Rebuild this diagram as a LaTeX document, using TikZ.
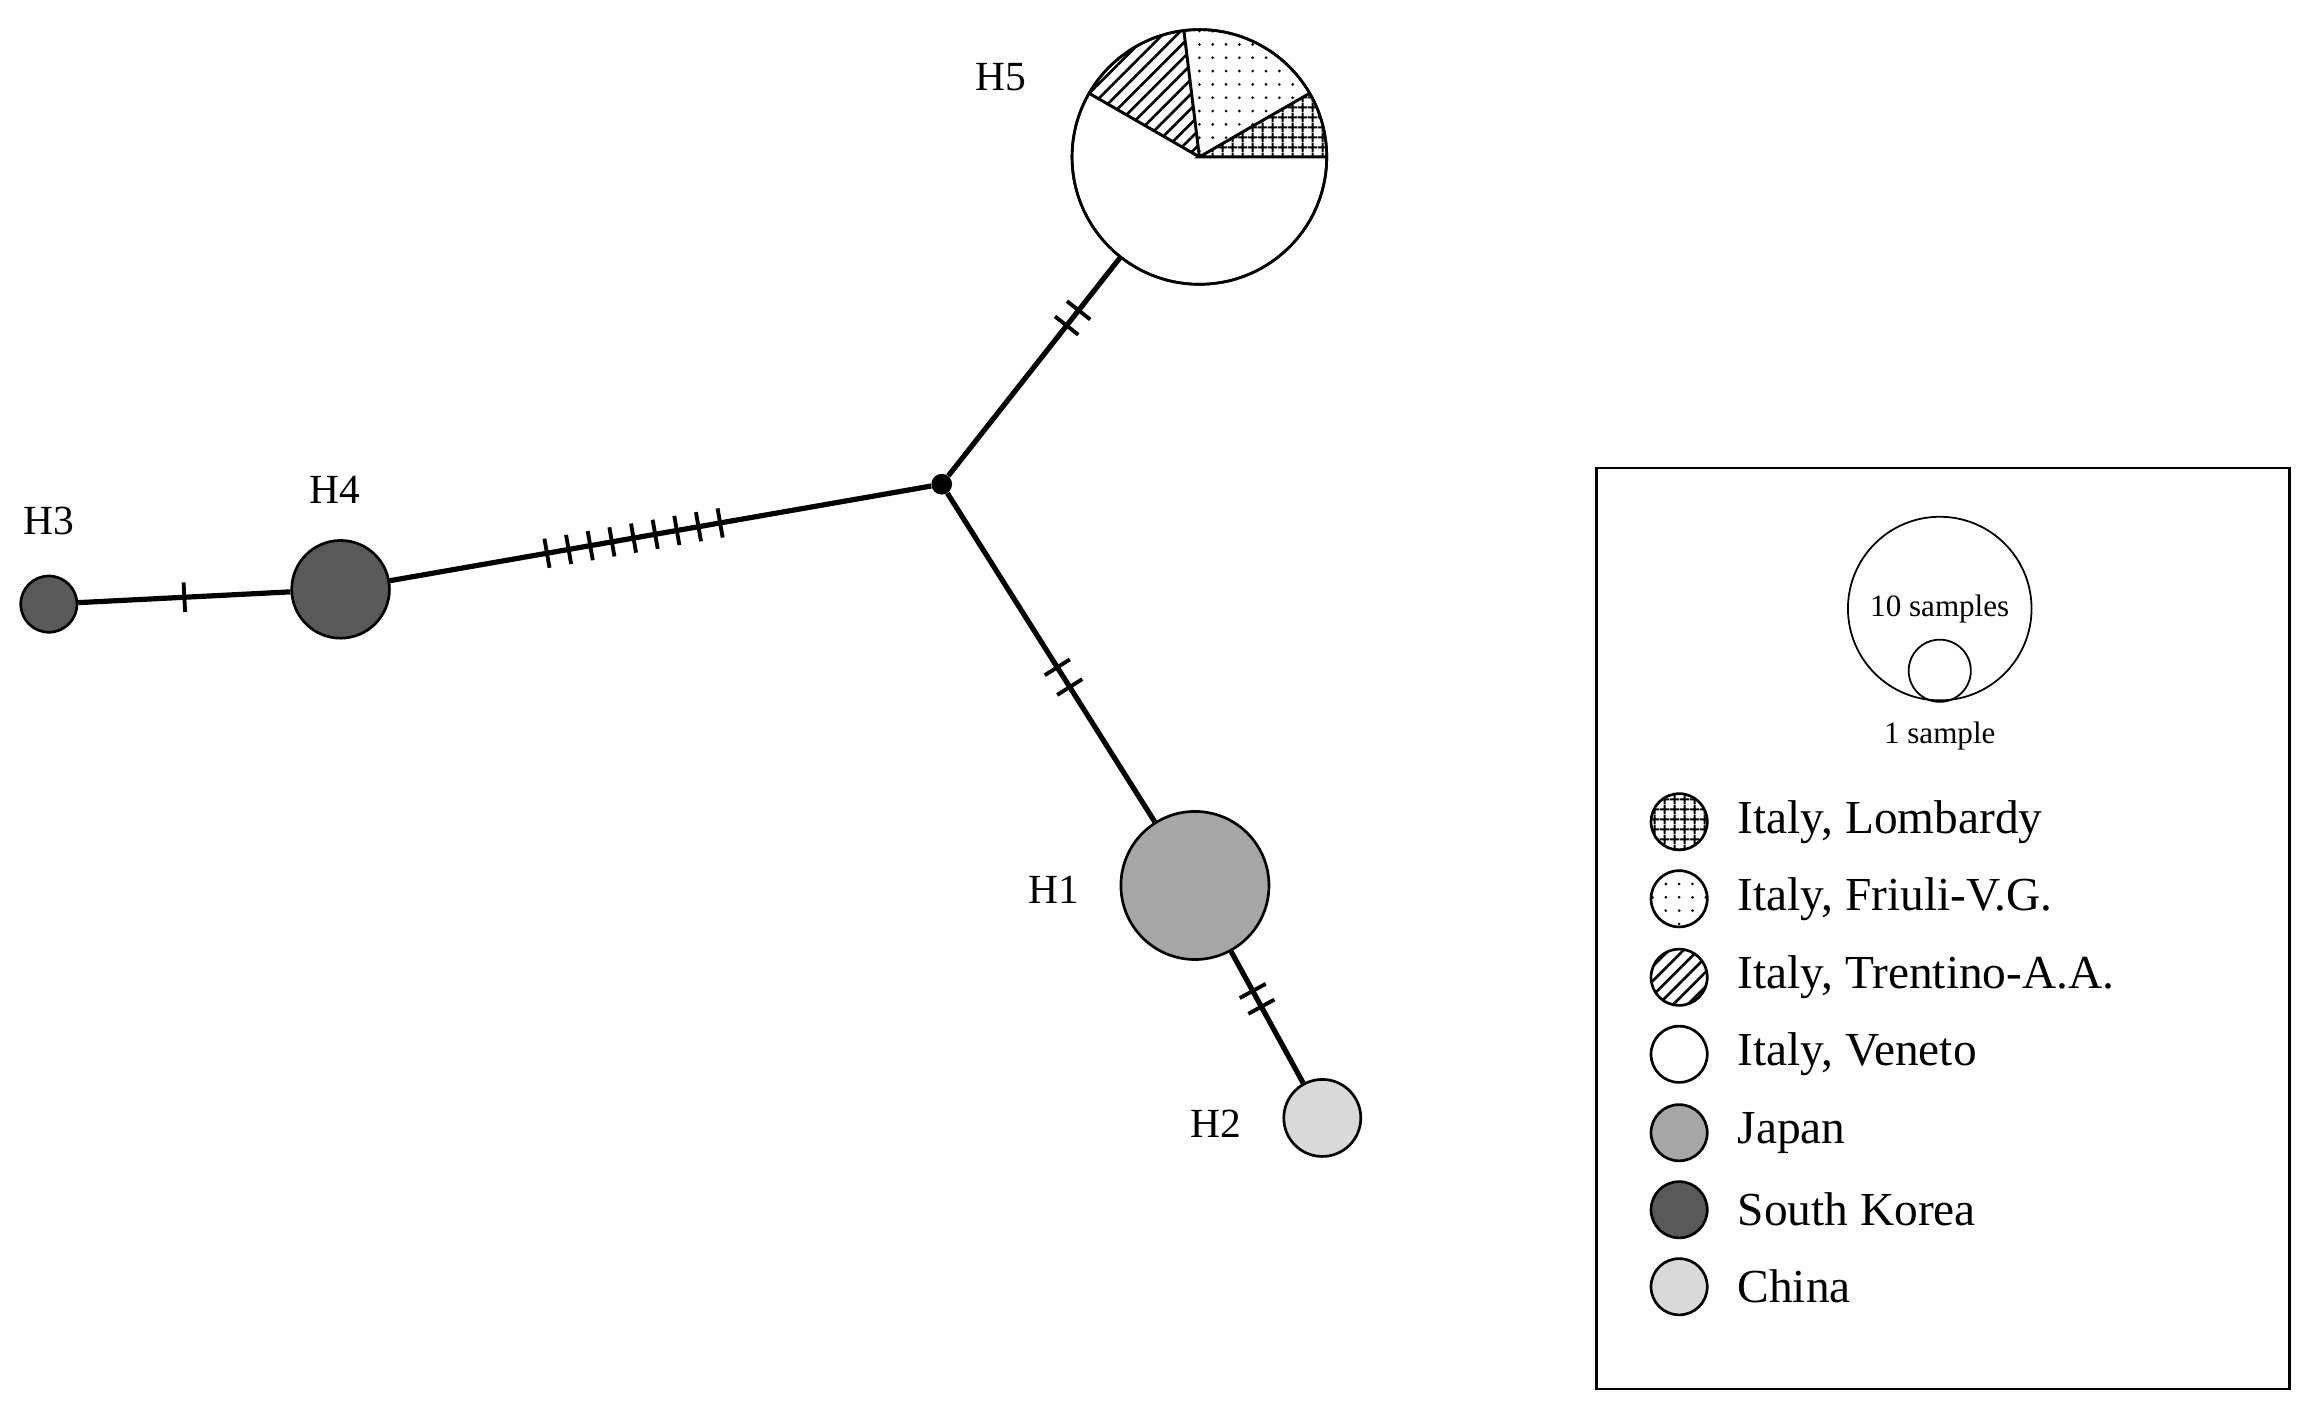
\documentclass[tikz,border=0pt]{standalone}
\usepackage{fontspec}
\setmainfont{Liberation Serif}
\usetikzlibrary{patterns.meta,decorations.markings}
\begin{document}
\begin{tikzpicture}[x=1pt,y=-1pt,
  hap/.style={circle,draw,line width=1.8pt,inner sep=0pt,minimum size=#1},
  lab/.style={font=\fontsize{28}{32}\selectfont},
  edge/.style={line width=3.5pt},
  tk/.pic={\draw[line width=2.6pt] (0,-10pt)--(0,10pt);},
  pcross/.style={pattern={Hatch[distance=6.5pt,line width=1.3pt]}},
  pdots/.style={pattern={Dots[distance=9pt,radius=1pt]}},
  plines/.style={pattern={Lines[angle=45,distance=7pt,line width=1.8pt]}},
  leg/.style={circle,draw,line width=1.8pt,inner sep=0pt,minimum size=38pt},
  legt/.style={anchor=west,font=\fontsize{32}{36}\selectfont}]
\useasboundingbox (0,0) rectangle (1556,957);
% nodes
\node[circle,fill=black,inner sep=0pt,minimum size=14pt] (c) at (636,327) {};
\node[hap=172pt] (h5) at (810,106) {};
\node[hap=66pt,fill=black!65] (h4) at (230,398) {};
\node[hap=38pt,fill=black!65] (h3) at (33,408) {};
\node[hap=100pt,fill=black!35] (h1) at (807,598) {};
\node[hap=52pt,fill=black!15] (h2) at (893,755) {};
% pie
\begin{scope}[shift={(810,106)},y=1pt]
\fill[pcross] (0,0) -- (0:86) arc (0:30:86) -- cycle;
\fill[pdots] (0,0) -- (30:86) arc (30:97:86) -- cycle;
\fill[plines] (0,0) -- (97:86) arc (97:150:86) -- cycle;
\draw[line width=2pt] (0:86) -- (0,0) -- (30:86) (0,0) -- (97:86) (0,0) -- (150:86);
\end{scope}
\node[hap=172pt] at (810,106) {};
% edges
\draw[edge,decoration={markings,mark=at position 0.5 with {\draw[line width=2.6pt] (0,-10pt)--(0,10pt);}},postaction={decorate}] (h3) -- (h4);
\draw[edge,decoration={markings,mark=between positions 0.29 and 0.61 step 0.04 with {\draw[line width=2.6pt] (0,-10pt)--(0,10pt);}},postaction={decorate}] (h4) -- (c);
\draw[edge,decoration={markings,mark=at position 0.69 with {\draw[line width=2.6pt] (0,-10pt)--(0,10pt);},mark=at position 0.76 with {\draw[line width=2.6pt] (0,-10pt)--(0,10pt);}},postaction={decorate}] (c) -- (h5);
\draw[edge,decoration={markings,mark=at position 0.53 with {\draw[line width=2.6pt] (0,-10pt)--(0,10pt);},mark=at position 0.59 with {\draw[line width=2.6pt] (0,-10pt)--(0,10pt);}},postaction={decorate}] (c) -- (h1);
\draw[edge,decoration={markings,mark=at position 0.30 with {\draw[line width=2.6pt] (0,-10pt)--(0,10pt);},mark=at position 0.42 with {\draw[line width=2.6pt] (0,-10pt)--(0,10pt);}},postaction={decorate}] (h1) -- (h2);
% labels
\node[lab] (l5) at (676,52) {H5};
\node[lab] (l4) at (226,331) {H4};
\node[lab] (l3) at (33,352) {H3};
\node[lab] (l1) at (712,601) {H1};
\node[lab] (l2) at (821,759) {H2};
% legend
\node[draw,line width=1.8pt,minimum width=468pt,minimum height=622pt,inner sep=0pt] (box) at (1312,627) {};
\node[hap=124pt,line width=1.2pt] (big) at (1310,411) {};
\node[hap=42pt,line width=1.2pt] (small) at (1310,453) {};
\node[font=\fontsize{21}{24}\selectfont] (t10) at (1310,411) {10 samples};
\node[font=\fontsize{21}{24}\selectfont] (t1) at (1310,497) {1 sample};
\node[leg,pcross] (k1) at (1134,555) {};
\node[leg,pdots] (k2) at (1134,607) {};
\node[leg,plines] (k3) at (1134,660) {};
\node[leg] (k4) at (1134,712) {};
\node[leg,fill=black!35] (k5) at (1134,765) {};
\node[leg,fill=black!65] (k6) at (1134,817) {};
\node[leg,fill=black!15] (k7) at (1134,869) {};
\node[legt] at (1170,555) {Italy, Lombardy};
\node[legt] at (1170,607) {Italy, Friuli-V.G.};
\node[legt] at (1170,660) {Italy, Trentino-A.A.};
\node[legt] at (1170,712) {Italy, Veneto};
\node[legt] at (1170,765) {Japan};
\node[legt] at (1170,817) {South Korea};
\node[legt] at (1170,869) {China};
\end{tikzpicture}
\end{document}
